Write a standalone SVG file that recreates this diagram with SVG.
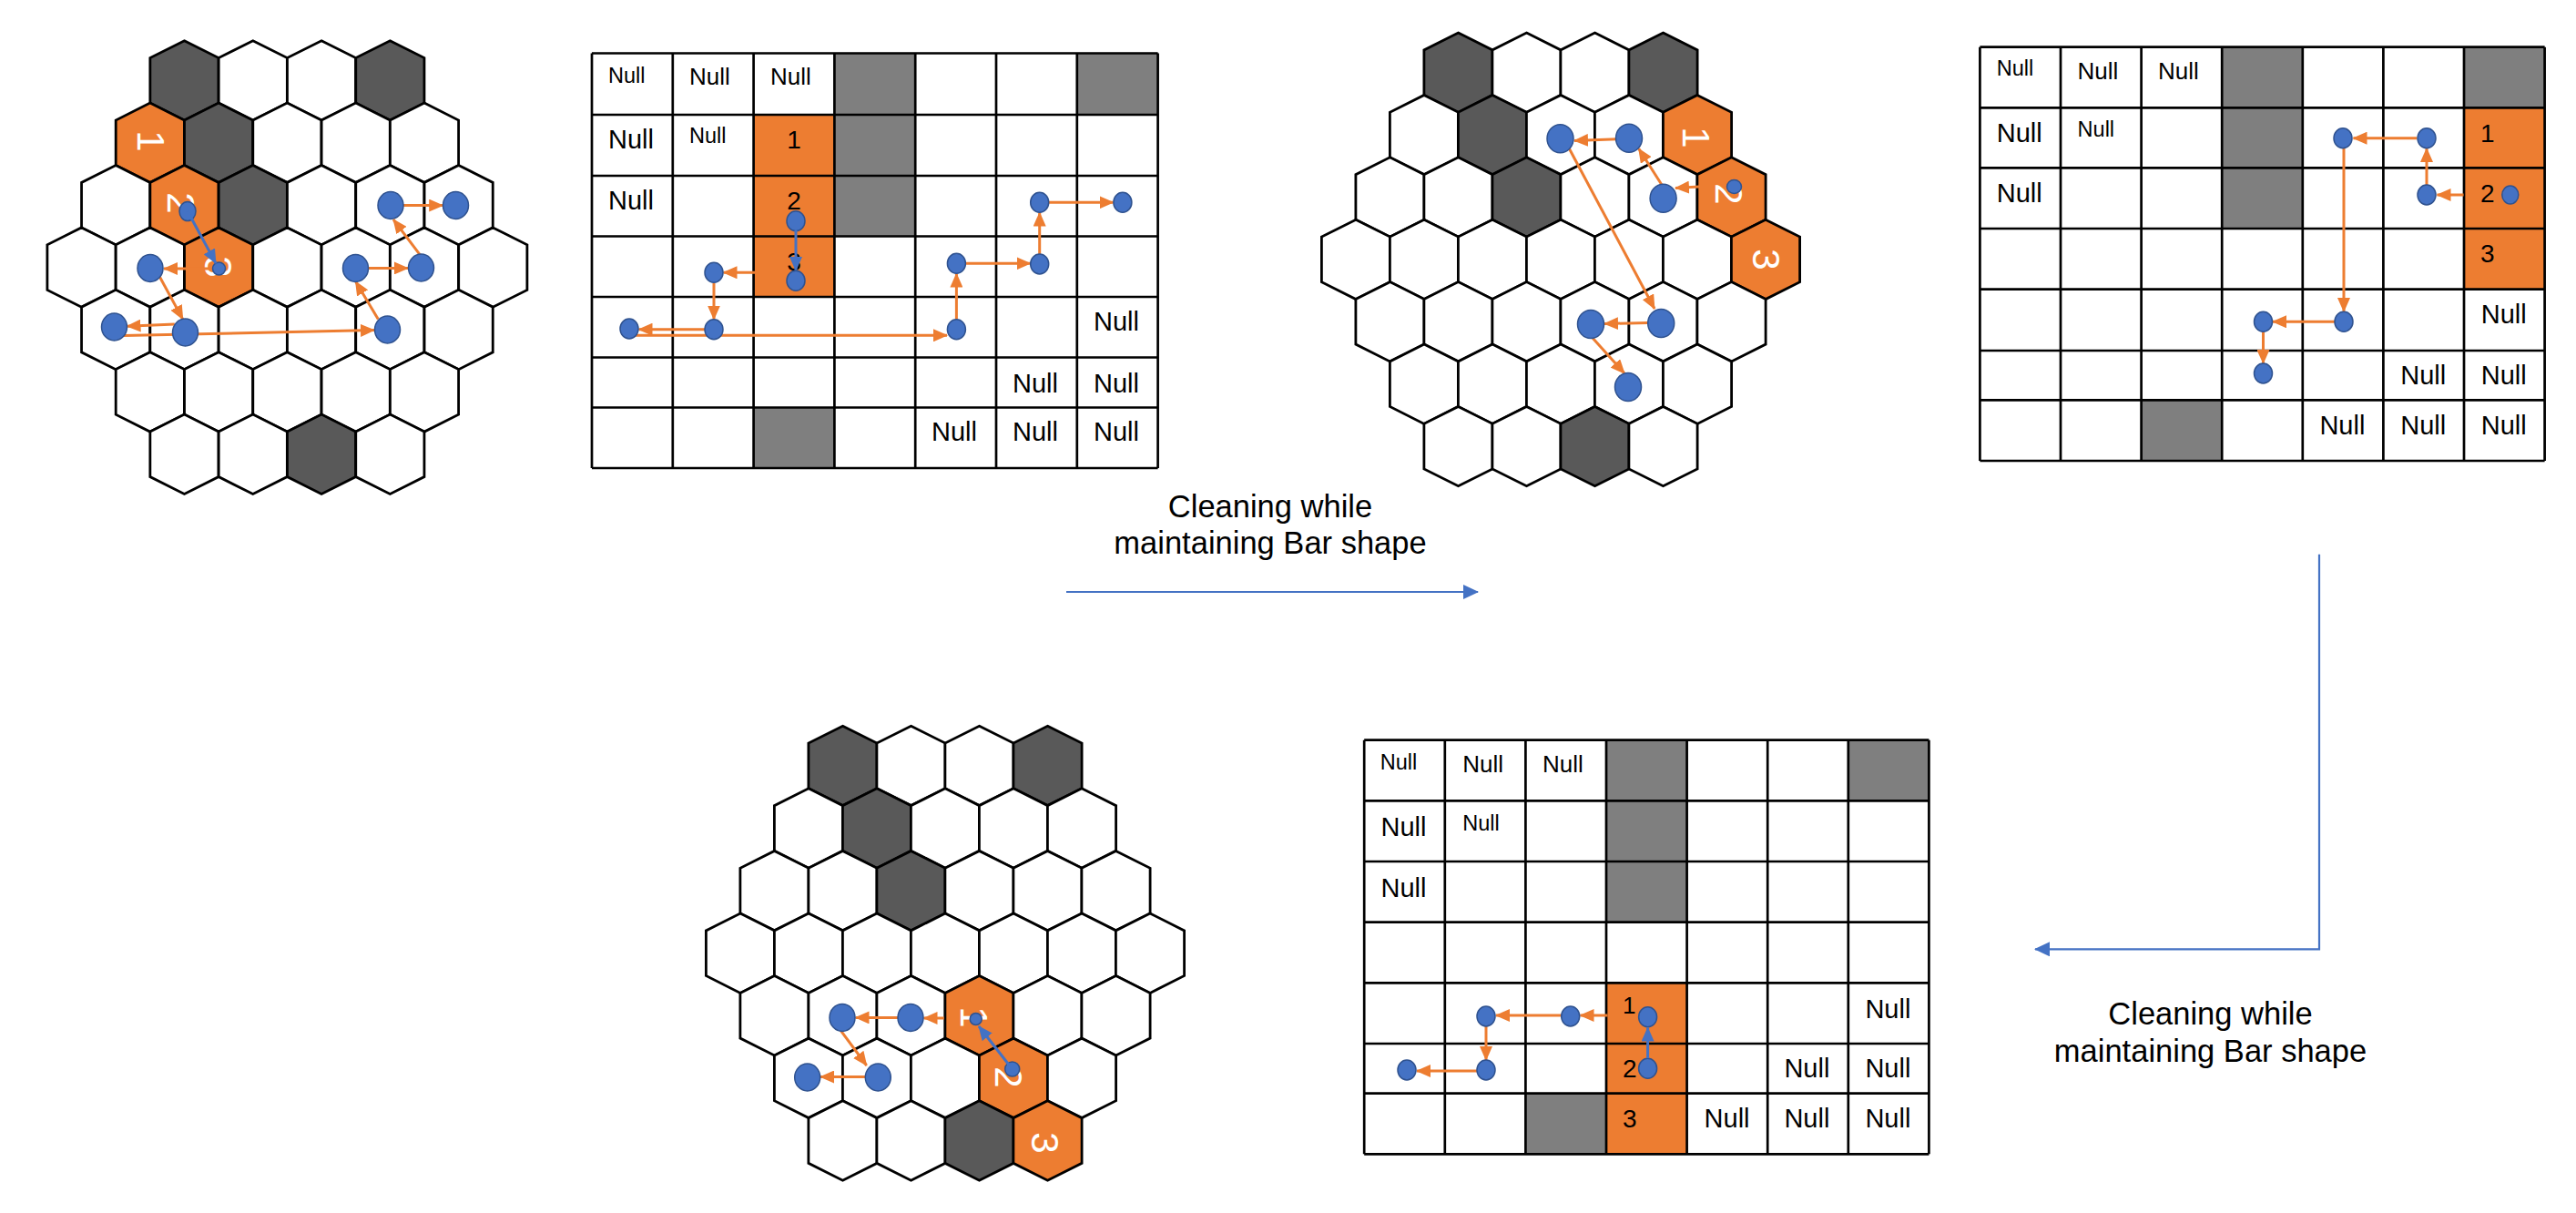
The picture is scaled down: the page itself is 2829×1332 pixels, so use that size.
<svg xmlns="http://www.w3.org/2000/svg" xmlns:xlink="http://www.w3.org/1999/xlink" width="2829" height="1332" viewBox="0 0 2829 1332">
<style>
  #hx { stroke:#000; stroke-width:2.8; stroke-linejoin:miter; }
  .w { fill:#fff; }
  .d { fill:#595959; }
  .o { fill:#ED7D31; }
  .cg { fill:#7F7F7F; }
  .co { fill:#ED7D31; }
  .grid { fill:none; stroke:#000; stroke-width:2.7; }
  .t { font-family:"Liberation Sans", Arial, sans-serif; fill:#000; }
  .nb { font-size:29px; }
  .nm { font-size:26px; }
  .ns { font-size:23.5px; }
  .dg { font-size:28px; }
  .hl { font-family:"Liberation Sans", Arial, sans-serif; font-size:42px; fill:#fff; text-anchor:middle; }
  .cap { font-family:"Liberation Sans", Arial, sans-serif; font-size:34.5px; fill:#000; text-anchor:middle; }
  .dot { fill:#4472C4; stroke:#2F528F; stroke-width:1.5; }
  .oa { fill:none; stroke:#ED7D31; stroke-width:3; marker-end:url(#mo); }
  .ba { fill:none; stroke:#4472C4; stroke-width:3; marker-end:url(#mb); }
  .pa { fill:none; stroke:#4472C4; stroke-width:2.2; marker-end:url(#mp); }
</style>
<defs>
  <polygon id="hx" points="0,-43.7 37.6,-24.8 37.6,24.8 0,43.7 -37.6,24.8 -37.6,-24.8"/>
  <marker id="mo" markerUnits="userSpaceOnUse" markerWidth="16" markerHeight="14" viewBox="0 0 16 14" refX="15" refY="7" orient="auto">
    <path d="M0,0 L16,7 L0,14 z" fill="#ED7D31"/>
  </marker>
  <marker id="mb" markerUnits="userSpaceOnUse" markerWidth="16" markerHeight="14" viewBox="0 0 16 14" refX="15" refY="7" orient="auto">
    <path d="M0,0 L16,7 L0,14 z" fill="#4472C4"/>
  </marker>
  <marker id="mp" markerUnits="userSpaceOnUse" markerWidth="17" markerHeight="16" viewBox="0 0 17 16" refX="16" refY="8" orient="auto">
    <path d="M0,0 L17,8 L0,16 z" fill="#4472C4"/>
  </marker>
</defs>
<rect width="2829" height="1332" fill="#fff"/>

<!-- ===== Hex board 1 ===== -->
<g id="hexboard1">
  <use href="#hx" class="d" x="202.45" y="88.4"/><use href="#hx" class="w" x="277.75" y="88.4"/><use href="#hx" class="w" x="353.05" y="88.4"/><use href="#hx" class="d" x="428.35" y="88.4"/>
  <use href="#hx" class="o" x="164.8" y="156.8"/><use href="#hx" class="d" x="240.1" y="156.8"/><use href="#hx" class="w" x="315.4" y="156.8"/><use href="#hx" class="w" x="390.7" y="156.8"/><use href="#hx" class="w" x="466.0" y="156.8"/>
  <use href="#hx" class="w" x="127.15" y="225.2"/><use href="#hx" class="o" x="202.45" y="225.2"/><use href="#hx" class="d" x="277.75" y="225.2"/><use href="#hx" class="w" x="353.05" y="225.2"/><use href="#hx" class="w" x="428.35" y="225.2"/><use href="#hx" class="w" x="503.65" y="225.2"/>
  <use href="#hx" class="w" x="89.5" y="293.6"/><use href="#hx" class="w" x="164.8" y="293.6"/><use href="#hx" class="o" x="240.1" y="293.6"/><use href="#hx" class="w" x="315.4" y="293.6"/><use href="#hx" class="w" x="390.7" y="293.6"/><use href="#hx" class="w" x="466.0" y="293.6"/><use href="#hx" class="w" x="541.3" y="293.6"/>
  <use href="#hx" class="w" x="127.15" y="362.0"/><use href="#hx" class="w" x="202.45" y="362.0"/><use href="#hx" class="w" x="277.75" y="362.0"/><use href="#hx" class="w" x="353.05" y="362.0"/><use href="#hx" class="w" x="428.35" y="362.0"/><use href="#hx" class="w" x="503.65" y="362.0"/>
  <use href="#hx" class="w" x="164.8" y="430.4"/><use href="#hx" class="w" x="240.1" y="430.4"/><use href="#hx" class="w" x="315.4" y="430.4"/><use href="#hx" class="w" x="390.7" y="430.4"/><use href="#hx" class="w" x="466.0" y="430.4"/>
  <use href="#hx" class="w" x="202.45" y="498.8"/><use href="#hx" class="w" x="277.75" y="498.8"/><use href="#hx" class="d" x="353.05" y="498.8"/><use href="#hx" class="w" x="428.35" y="498.8"/>
  <text class="hl" transform="translate(166,155) rotate(90)" x="0" y="15">1</text>
  <text class="hl" transform="translate(199,223) rotate(90)" x="0" y="15">2</text>
  <text class="hl" transform="translate(240,293) rotate(90)" x="0" y="15">3</text>
  <line class="oa" x1="233" y1="295" x2="180" y2="295"/>
  <line class="oa" x1="175.4" y1="304" x2="200.8" y2="350.6"/>
  <line class="oa" x1="191.8" y1="356" x2="139.5" y2="358.2"/>
  <line class="oa" x1="135.4" y1="368.5" x2="411" y2="362.6"/>
  <line class="oa" x1="415.3" y1="350.6" x2="390.5" y2="309"/>
  <line class="oa" x1="404.4" y1="294.4" x2="448" y2="294.4"/>
  <line class="oa" x1="462.6" y1="281.7" x2="432" y2="241"/>
  <line class="oa" x1="442.6" y1="225.6" x2="486.2" y2="225.6"/>
  <ellipse class="dot" cx="206" cy="232" rx="9" ry="10.5"/>
  <ellipse class="dot" cx="240.5" cy="295" rx="7" ry="7"/>
  <line class="ba" x1="206" y1="232" x2="237" y2="289"/>
  <ellipse class="dot" cx="165" cy="294.5" rx="14" ry="15"/>
  <ellipse class="dot" cx="203.5" cy="365" rx="14" ry="15"/>
  <ellipse class="dot" cx="125.5" cy="359" rx="14" ry="15"/>
  <ellipse class="dot" cx="425.5" cy="362" rx="14" ry="15"/>
  <ellipse class="dot" cx="390.5" cy="294.5" rx="14" ry="15"/>
  <ellipse class="dot" cx="462.5" cy="294" rx="14" ry="15"/>
  <ellipse class="dot" cx="429" cy="225.5" rx="14" ry="15"/>
  <ellipse class="dot" cx="500.5" cy="225.5" rx="14" ry="15"/>
</g>

<!-- ===== Table 1 ===== -->
<g id="table1">
  <rect class="cg" x="916.4" y="58.5" width="88.8" height="67.5"/>
  <rect class="cg" x="1182.8" y="58.5" width="88.8" height="67.5"/>
  <rect class="cg" x="916.4" y="126" width="88.8" height="67"/>
  <rect class="cg" x="916.4" y="193" width="88.8" height="66.5"/>
  <rect class="cg" x="827.6" y="447.5" width="88.8" height="66.5"/>
  <rect class="co" x="827.6" y="126" width="88.8" height="67"/>
  <rect class="co" x="827.6" y="193" width="88.8" height="66.5"/>
  <rect class="co" x="827.6" y="259.5" width="88.8" height="66.5"/>
  <path class="grid" d="M650,58.5H1271.6M650,126H1271.6M650,193H1271.6M650,259.5H1271.6M650,326H1271.6M650,392.5H1271.6M650,447.5H1271.6M650,514H1271.6M650,58.5V514M738.8,58.5V514M827.6,58.5V514M916.4,58.5V514M1005.2,58.5V514M1094,58.5V514M1182.8,58.5V514M1271.6,58.5V514"/>
  <text class="t ns" x="668" y="90.7">Null</text>
  <text class="t nm" x="757" y="93.3">Null</text>
  <text class="t nm" x="846" y="93.3">Null</text>
  <text class="t nb" x="668" y="163">Null</text>
  <text class="t ns" x="757" y="157">Null</text>
  <text class="t nb" x="668" y="230">Null</text>
  <text class="t dg" x="872" y="163" text-anchor="middle">1</text>
  <text class="t dg" x="872" y="230" text-anchor="middle">2</text>
  <text class="t dg" x="872" y="297" text-anchor="middle">3</text>
  <text class="t nb" x="1201" y="363">Null</text>
  <text class="t nb" x="1112" y="431">Null</text>
  <text class="t nb" x="1201" y="431">Null</text>
  <text class="t nb" x="1023" y="484">Null</text>
  <text class="t nb" x="1112" y="484">Null</text>
  <text class="t nb" x="1201" y="484">Null</text>
  <line class="oa" x1="830.7" y1="299.3" x2="794.5" y2="299.3"/>
  <line class="oa" x1="784" y1="311" x2="784" y2="350.5"/>
  <line class="oa" x1="774" y1="361.7" x2="701.5" y2="361.7"/>
  <line class="oa" x1="698" y1="368.3" x2="1040" y2="368.3"/>
  <line class="oa" x1="1050.4" y1="350.5" x2="1050.4" y2="300.5"/>
  <line class="oa" x1="1060.5" y1="289.3" x2="1131.5" y2="289.3"/>
  <line class="oa" x1="1141.7" y1="279" x2="1141.7" y2="233.5"/>
  <line class="oa" x1="1152" y1="222.3" x2="1222.5" y2="222.3"/>
  <ellipse class="dot" cx="874" cy="242.7" rx="10" ry="11"/>
  <line class="ba" x1="874" y1="253" x2="874" y2="297"/>
  <ellipse class="dot" cx="874" cy="308.3" rx="10" ry="11"/>
  <ellipse class="dot" cx="784" cy="299.3" rx="10" ry="11"/>
  <ellipse class="dot" cx="784" cy="361.7" rx="10" ry="11"/>
  <ellipse class="dot" cx="691" cy="361" rx="10" ry="11"/>
  <ellipse class="dot" cx="1050.4" cy="361.7" rx="10" ry="11"/>
  <ellipse class="dot" cx="1050.4" cy="289.3" rx="10" ry="11"/>
  <ellipse class="dot" cx="1141.7" cy="290" rx="10" ry="11"/>
  <ellipse class="dot" cx="1141.7" cy="222.3" rx="10" ry="11"/>
  <ellipse class="dot" cx="1232.9" cy="222.3" rx="10" ry="11"/>
</g>

<!-- ===== Hex board 2 ===== -->
<g id="hexboard2">
  <use href="#hx" class="d" x="1601.5" y="79.7"/><use href="#hx" class="w" x="1676.5" y="79.7"/><use href="#hx" class="w" x="1751.5" y="79.7"/><use href="#hx" class="d" x="1826.5" y="79.7"/>
  <use href="#hx" class="w" x="1564" y="148.1"/><use href="#hx" class="d" x="1639" y="148.1"/><use href="#hx" class="w" x="1714" y="148.1"/><use href="#hx" class="w" x="1789" y="148.1"/><use href="#hx" class="o" x="1864" y="148.1"/>
  <use href="#hx" class="w" x="1526.5" y="216.5"/><use href="#hx" class="w" x="1601.5" y="216.5"/><use href="#hx" class="d" x="1676.5" y="216.5"/><use href="#hx" class="w" x="1751.5" y="216.5"/><use href="#hx" class="w" x="1826.5" y="216.5"/><use href="#hx" class="o" x="1901.5" y="216.5"/>
  <use href="#hx" class="w" x="1489" y="284.9"/><use href="#hx" class="w" x="1564" y="284.9"/><use href="#hx" class="w" x="1639" y="284.9"/><use href="#hx" class="w" x="1714" y="284.9"/><use href="#hx" class="w" x="1789" y="284.9"/><use href="#hx" class="w" x="1864" y="284.9"/><use href="#hx" class="o" x="1939" y="284.9"/>
  <use href="#hx" class="w" x="1526.5" y="353.3"/><use href="#hx" class="w" x="1601.5" y="353.3"/><use href="#hx" class="w" x="1676.5" y="353.3"/><use href="#hx" class="w" x="1751.5" y="353.3"/><use href="#hx" class="w" x="1826.5" y="353.3"/><use href="#hx" class="w" x="1901.5" y="353.3"/>
  <use href="#hx" class="w" x="1564" y="421.7"/><use href="#hx" class="w" x="1639" y="421.7"/><use href="#hx" class="w" x="1714" y="421.7"/><use href="#hx" class="w" x="1789" y="421.7"/><use href="#hx" class="w" x="1864" y="421.7"/>
  <use href="#hx" class="w" x="1601.5" y="490.1"/><use href="#hx" class="w" x="1676.5" y="490.1"/><use href="#hx" class="d" x="1751.5" y="490.1"/><use href="#hx" class="w" x="1826.5" y="490.1"/>
  <text class="hl" transform="translate(1863,151) rotate(90)" x="0" y="15">1</text>
  <text class="hl" transform="translate(1898.6,213) rotate(90)" x="0" y="15">2</text>
  <text class="hl" transform="translate(1940,285) rotate(90)" x="0" y="15">3</text>
  <line class="oa" x1="1866" y1="205" x2="1840" y2="206.5"/>
  <line class="oa" x1="1825" y1="203" x2="1799.7" y2="163.3"/>
  <line class="oa" x1="1776" y1="152.7" x2="1729" y2="154.5"/>
  <line class="oa" x1="1722.6" y1="161.7" x2="1817" y2="339"/>
  <line class="oa" x1="1809.6" y1="354.5" x2="1762" y2="355.5"/>
  <line class="oa" x1="1748" y1="370" x2="1784" y2="410"/>
  <ellipse class="dot" cx="1904.5" cy="205" rx="8" ry="7.5"/>
  <ellipse class="dot" cx="1826.6" cy="217.7" rx="14.5" ry="15.5"/>
  <ellipse class="dot" cx="1789" cy="151.7" rx="14.5" ry="15.5"/>
  <ellipse class="dot" cx="1713.5" cy="152.3" rx="14.5" ry="15.5"/>
  <ellipse class="dot" cx="1824.2" cy="355" rx="14.5" ry="15.5"/>
  <ellipse class="dot" cx="1747" cy="356" rx="14.5" ry="15.5"/>
  <ellipse class="dot" cx="1788" cy="425" rx="14.5" ry="15.5"/>
</g>

<!-- ===== Table 2 ===== -->
<g id="table2">
  <rect class="cg" x="2440.2" y="51.7" width="88.6" height="66.6"/>
  <rect class="cg" x="2706" y="51.7" width="88.6" height="66.6"/>
  <rect class="cg" x="2440.2" y="118.3" width="88.6" height="66"/>
  <rect class="cg" x="2440.2" y="184.3" width="88.6" height="66.7"/>
  <rect class="cg" x="2351.6" y="439.3" width="88.6" height="66.7"/>
  <rect class="co" x="2706" y="118.3" width="88.6" height="66"/>
  <rect class="co" x="2706" y="184.3" width="88.6" height="66.7"/>
  <rect class="co" x="2706" y="251" width="88.6" height="66.7"/>
  <path class="grid" d="M2174.4,51.7H2794.6M2174.4,118.3H2794.6M2174.4,184.3H2794.6M2174.4,251H2794.6M2174.4,317.7H2794.6M2174.4,385H2794.6M2174.4,439.3H2794.6M2174.4,506H2794.6M2174.4,51.7V506M2263,51.7V506M2351.6,51.7V506M2440.2,51.7V506M2528.8,51.7V506M2617.4,51.7V506M2706,51.7V506M2794.6,51.7V506"/>
  <text class="t ns" x="2192.7" y="83.3">Null</text>
  <text class="t nm" x="2281.6" y="86.7">Null</text>
  <text class="t nm" x="2370" y="86.7">Null</text>
  <text class="t nb" x="2192.7" y="156">Null</text>
  <text class="t ns" x="2281.6" y="150">Null</text>
  <text class="t nb" x="2192.7" y="221.7">Null</text>
  <text class="t dg" x="2724" y="156">1</text>
  <text class="t dg" x="2724" y="221.7">2</text>
  <text class="t dg" x="2724" y="288.3">3</text>
  <text class="t nb" x="2724.8" y="355">Null</text>
  <text class="t nb" x="2636.3" y="421.7">Null</text>
  <text class="t nb" x="2724.8" y="421.7">Null</text>
  <text class="t nb" x="2547.4" y="476.7">Null</text>
  <text class="t nb" x="2636.3" y="476.7">Null</text>
  <text class="t nb" x="2724.8" y="476.7">Null</text>
  <line class="oa" x1="2705.6" y1="214" x2="2676.5" y2="214"/>
  <line class="oa" x1="2665" y1="203" x2="2665" y2="163"/>
  <line class="oa" x1="2654.3" y1="151.7" x2="2584.5" y2="151.7"/>
  <line class="oa" x1="2574" y1="162.7" x2="2574" y2="342"/>
  <line class="oa" x1="2564.5" y1="353.3" x2="2496" y2="353.3"/>
  <line class="oa" x1="2485.5" y1="364.3" x2="2485.5" y2="399"/>
  <ellipse class="dot" cx="2756.8" cy="214" rx="9" ry="10"/>
  <ellipse class="dot" cx="2665" cy="214" rx="10" ry="11"/>
  <ellipse class="dot" cx="2665" cy="151.7" rx="10" ry="11"/>
  <ellipse class="dot" cx="2573" cy="151.7" rx="10" ry="11"/>
  <ellipse class="dot" cx="2574" cy="353.3" rx="10" ry="11"/>
  <ellipse class="dot" cx="2485.5" cy="353.3" rx="10" ry="11"/>
  <ellipse class="dot" cx="2485.5" cy="410" rx="10" ry="11"/>
</g>

<!-- ===== Hex board 3 ===== -->
<g id="hexboard3">
  <use href="#hx" class="d" x="925.5" y="840.9"/><use href="#hx" class="w" x="1000.5" y="840.9"/><use href="#hx" class="w" x="1075.5" y="840.9"/><use href="#hx" class="d" x="1150.5" y="840.9"/>
  <use href="#hx" class="w" x="888" y="909.5"/><use href="#hx" class="d" x="963" y="909.5"/><use href="#hx" class="w" x="1038" y="909.5"/><use href="#hx" class="w" x="1113" y="909.5"/><use href="#hx" class="w" x="1188" y="909.5"/>
  <use href="#hx" class="w" x="850.5" y="978.1"/><use href="#hx" class="w" x="925.5" y="978.1"/><use href="#hx" class="d" x="1000.5" y="978.1"/><use href="#hx" class="w" x="1075.5" y="978.1"/><use href="#hx" class="w" x="1150.5" y="978.1"/><use href="#hx" class="w" x="1225.5" y="978.1"/>
  <use href="#hx" class="w" x="813" y="1046.7"/><use href="#hx" class="w" x="888" y="1046.7"/><use href="#hx" class="w" x="963" y="1046.7"/><use href="#hx" class="w" x="1038" y="1046.7"/><use href="#hx" class="w" x="1113" y="1046.7"/><use href="#hx" class="w" x="1188" y="1046.7"/><use href="#hx" class="w" x="1263" y="1046.7"/>
  <use href="#hx" class="w" x="850.5" y="1115.3"/><use href="#hx" class="w" x="925.5" y="1115.3"/><use href="#hx" class="w" x="1000.5" y="1115.3"/><use href="#hx" class="o" x="1075.5" y="1115.3"/><use href="#hx" class="w" x="1150.5" y="1115.3"/><use href="#hx" class="w" x="1225.5" y="1115.3"/>
  <use href="#hx" class="w" x="888" y="1183.9"/><use href="#hx" class="w" x="963" y="1183.9"/><use href="#hx" class="w" x="1038" y="1183.9"/><use href="#hx" class="o" x="1113" y="1183.9"/><use href="#hx" class="w" x="1188" y="1183.9"/>
  <use href="#hx" class="w" x="925.5" y="1252.5"/><use href="#hx" class="w" x="1000.5" y="1252.5"/><use href="#hx" class="d" x="1075.5" y="1252.5"/><use href="#hx" class="o" x="1150.5" y="1252.5"/>
  <text class="hl" transform="translate(1070,1117) rotate(90)" x="0" y="15">1</text>
  <text class="hl" transform="translate(1108,1183) rotate(90)" x="0" y="15">2</text>
  <text class="hl" transform="translate(1148,1255) rotate(90)" x="0" y="15">3</text>
  <line class="oa" x1="1036.7" y1="1118" x2="1014.5" y2="1118"/>
  <line class="oa" x1="986.7" y1="1117.4" x2="939.5" y2="1117.4"/>
  <line class="oa" x1="923.3" y1="1131.6" x2="951.7" y2="1170"/>
  <line class="oa" x1="950" y1="1182.5" x2="901" y2="1182.5"/>
  <ellipse class="dot" cx="1071.7" cy="1119" rx="6.5" ry="6.5"/>
  <ellipse class="dot" cx="1111.7" cy="1174" rx="8" ry="8"/>
  <line class="ba" x1="1111.7" y1="1174" x2="1075" y2="1127"/>
  <ellipse class="dot" cx="1000" cy="1117.4" rx="14" ry="15"/>
  <ellipse class="dot" cx="925" cy="1117.4" rx="14" ry="15"/>
  <ellipse class="dot" cx="964.3" cy="1183" rx="14" ry="15"/>
  <ellipse class="dot" cx="886.7" cy="1183" rx="14" ry="15"/>
</g>

<!-- ===== Table 3 ===== -->
<g id="table3">
  <rect class="cg" x="1764" y="812.7" width="88.6" height="66.6"/>
  <rect class="cg" x="2029.8" y="812.7" width="88.6" height="66.6"/>
  <rect class="cg" x="1764" y="879.3" width="88.6" height="66.7"/>
  <rect class="cg" x="1764" y="946" width="88.6" height="66.7"/>
  <rect class="cg" x="1675.4" y="1200.7" width="88.6" height="66.6"/>
  <rect class="co" x="1764" y="1079.3" width="88.6" height="66.7"/>
  <rect class="co" x="1764" y="1146" width="88.6" height="54.7"/>
  <rect class="co" x="1764" y="1200.7" width="88.6" height="66.6"/>
  <path class="grid" d="M1498.2,812.7H2118.4M1498.2,879.3H2118.4M1498.2,946H2118.4M1498.2,1012.7H2118.4M1498.2,1079.3H2118.4M1498.2,1146H2118.4M1498.2,1200.7H2118.4M1498.2,1267.3H2118.4M1498.2,812.7V1267.3M1586.8,812.7V1267.3M1675.4,812.7V1267.3M1764,812.7V1267.3M1852.6,812.7V1267.3M1941.2,812.7V1267.3M2029.8,812.7V1267.3M2118.4,812.7V1267.3"/>
  <text class="t ns" x="1515.7" y="845">Null</text>
  <text class="t nm" x="1606.3" y="848.3">Null</text>
  <text class="t nm" x="1694.1" y="848.3">Null</text>
  <text class="t nb" x="1516.5" y="918.3">Null</text>
  <text class="t ns" x="1606.3" y="911.7">Null</text>
  <text class="t nb" x="1516.5" y="985">Null</text>
  <text class="t dg" x="1782" y="1113.3" style="font-size:26px">1</text>
  <text class="t nb" x="2048.4" y="1118.3">Null</text>
  <text class="t dg" x="1782" y="1183.3">2</text>
  <text class="t nb" x="1959.4" y="1183.3">Null</text>
  <text class="t nb" x="2048.4" y="1183.3">Null</text>
  <text class="t dg" x="1782" y="1238.3">3</text>
  <text class="t nb" x="1871.6" y="1238.3">Null</text>
  <text class="t nb" x="1959.4" y="1238.3">Null</text>
  <text class="t nb" x="2048.4" y="1238.3">Null</text>
  <line class="oa" x1="1765.5" y1="1115" x2="1735.5" y2="1115"/>
  <line class="oa" x1="1714.5" y1="1115" x2="1643" y2="1115"/>
  <line class="oa" x1="1632" y1="1127" x2="1632" y2="1164"/>
  <line class="oa" x1="1622" y1="1176" x2="1556" y2="1176"/>
  <ellipse class="dot" cx="1809.6" cy="1116.7" rx="10" ry="11"/>
  <ellipse class="dot" cx="1809.6" cy="1173.3" rx="10" ry="11"/>
  <line class="ba" x1="1809.6" y1="1162" x2="1809.6" y2="1128.5"/>
  <ellipse class="dot" cx="1724.7" cy="1116" rx="10" ry="11"/>
  <ellipse class="dot" cx="1632" cy="1116" rx="10" ry="11"/>
  <ellipse class="dot" cx="1632" cy="1175" rx="10" ry="11"/>
  <ellipse class="dot" cx="1545" cy="1175" rx="10" ry="11"/>
</g>

<!-- ===== Process connectors ===== -->
<g id="connectors">
  <line class="pa" x1="1171" y1="650" x2="1623" y2="650"/>
  <text class="cap" x="1395" y="568">Cleaning while</text>
  <text class="cap" x="1395" y="608">maintaining Bar shape</text>
  <path class="pa" d="M2547,608.7 V1042.3 H2235"/>
  <text class="cap" x="2427.5" y="1125">Cleaning while</text>
  <text class="cap" x="2427.5" y="1165.5">maintaining Bar shape</text>
</g>
</svg>
